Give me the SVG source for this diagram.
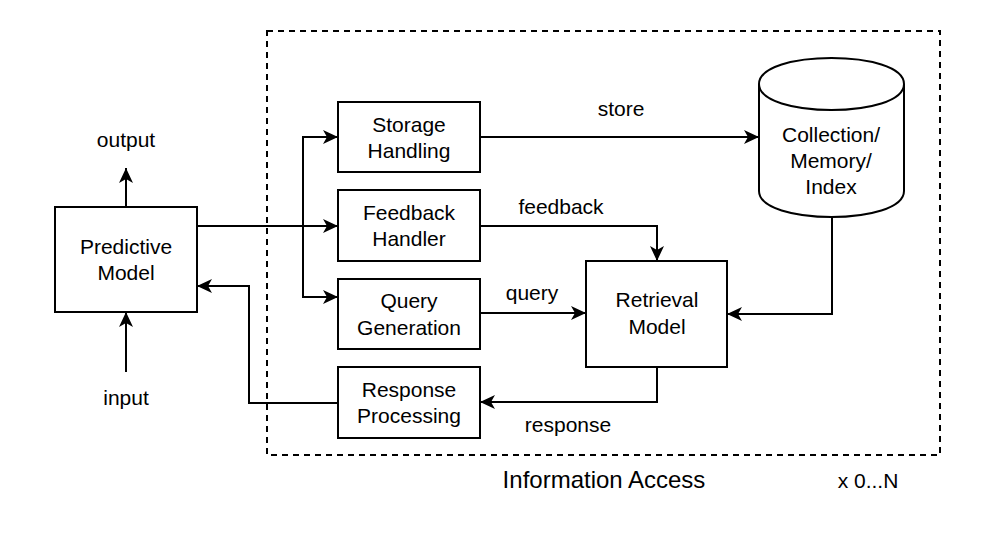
<svg xmlns="http://www.w3.org/2000/svg" width="997" height="539" viewBox="0 0 997 539">
<defs>
<style>
.box{fill:#fff;stroke:#000;stroke-width:2}
.t{font-family:"Liberation Sans",Arial,Helvetica,sans-serif;font-size:21px;fill:#000;text-anchor:middle}
.big{font-size:24px}
.edge{fill:none;stroke:#000;stroke-width:2}
.dash{fill:none;stroke:#000;stroke-width:2;stroke-dasharray:6 5}
</style>
<marker id="arr" markerUnits="userSpaceOnUse" markerWidth="16" markerHeight="14" refX="15" refY="7" orient="auto" viewBox="0 0 16 14">
<path d="M0,0 L15,7 L0,14 L4,7 Z" fill="#000"/>
</marker>
</defs>
<rect width="997" height="539" fill="#fff"/>
<g id="information-access">
<rect class="dash" x="267" y="31" width="673" height="424"/>
<text class="t big" x="604" y="488">Information Access</text>
<text class="t" x="868" y="488">x 0...N</text>
</g>
<g id="connectors">
<path class="edge" d="M126,207 V168" marker-end="url(#arr)"/>
<path class="edge" d="M126,372 V312" marker-end="url(#arr)"/>
<path class="edge" d="M197,226 H338" marker-end="url(#arr)"/>
<path class="edge" d="M303,226 V137 H338" marker-end="url(#arr)"/>
<path class="edge" d="M303,226 V297 H338" marker-end="url(#arr)"/>
<path class="edge" d="M480,137 H759" marker-end="url(#arr)"/>
<path class="edge" d="M480,226 H657 V261" marker-end="url(#arr)"/>
<path class="edge" d="M480,313 H586" marker-end="url(#arr)"/>
<path class="edge" d="M832,217 V314 H727" marker-end="url(#arr)"/>
<path class="edge" d="M657,367 V402 H480" marker-end="url(#arr)"/>
<path class="edge" d="M338,403 H249 V286 H197" marker-end="url(#arr)"/>
<text class="t" x="126" y="147">output</text>
<text class="t" x="126" y="405">input</text>
<text class="t" x="621" y="116">store</text>
<text class="t" x="561" y="214">feedback</text>
<text class="t" x="532" y="300">query</text>
<text class="t" x="568" y="432">response</text>
</g>
<g id="predictive-model">
<rect class="box" x="55" y="207" width="142" height="105"/>
<text class="t" x="126" y="254">Predictive</text>
<text class="t" x="126" y="280">Model</text>
</g>
<g id="storage-handling">
<rect class="box" x="338" y="102" width="142" height="70"/>
<text class="t" x="409" y="132">Storage</text>
<text class="t" x="409" y="158">Handling</text>
</g>
<g id="feedback-handler">
<rect class="box" x="338" y="190" width="142" height="71"/>
<text class="t" x="409" y="220">Feedback</text>
<text class="t" x="409" y="246">Handler</text>
</g>
<g id="query-generation">
<rect class="box" x="338" y="279" width="142" height="70"/>
<text class="t" x="409" y="308">Query</text>
<text class="t" x="409" y="335">Generation</text>
</g>
<g id="response-processing">
<rect class="box" x="338" y="367" width="142" height="71"/>
<text class="t" x="409" y="397">Response</text>
<text class="t" x="409" y="423">Processing</text>
</g>
<g id="retrieval-model">
<rect class="box" x="586" y="261" width="141" height="106"/>
<text class="t" x="657" y="307">Retrieval</text>
<text class="t" x="657" y="334">Model</text>
</g>
<g id="collection-memory-index">
<path class="box" d="M759,84 C759,49.3 904,49.3 904,84 V191 C904,225.7 759,225.7 759,191 Z"/>
<path class="edge" d="M759,84 C759,118.7 904,118.7 904,84"/>
<text class="t" x="831" y="142">Collection/</text>
<text class="t" x="831" y="168">Memory/</text>
<text class="t" x="831" y="194">Index</text>
</g>
</svg>
